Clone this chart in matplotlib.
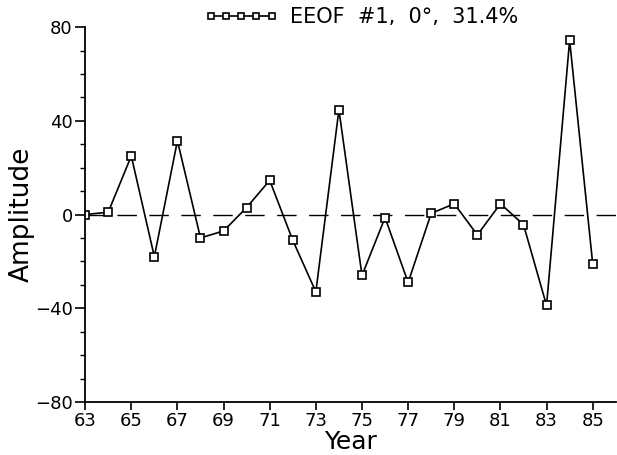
import matplotlib.pyplot as plt

years = list(range(63, 86))
amp = [0, 1, 25, -18, 31.5, -10, -7, 3, 14.6, -11, -33, 44.7, -26,
       -1.3, -29, 0.5, 4.6, -8.7, 4.6, -4.3, -38.8, 74.4, -21]
xticks = list(range(63, 86, 2))
yticks = [-80, -40, 0, 40, 80]

plt.rcParams['font.family'] = 'DejaVu Sans'
fig = plt.figure(figsize=(6.17, 4.55), dpi=100)
ax = fig.add_axes([0.138, 0.1165, 0.86, 0.824])

ax.axhline(0, color='black', lw=1, dashes=(14, 9))
ax.plot(years, amp, color='black', lw=1.2, marker='s', ms=6,
        mfc='white', mec='black', mew=1.2,
        label='EEOF  #1,  0°,  31.4%')

ax.set_xlim(63, 86)
ax.set_ylim(-80, 80)
ax.set_xticks(xticks)
ax.set_yticks(yticks)
ax.set_yticks(range(-80, 81, 10), minor=True)
ax.tick_params(axis='y', which='major', direction='out', length=7,
               labelsize=13, width=1.2, pad=2)
ax.tick_params(axis='y', which='minor', direction='out', length=3.5, width=1)
ax.tick_params(axis='x', direction='out', length=6, labelsize=13,
               width=1.2, pad=1)
for s in ['top', 'right']:
    ax.spines[s].set_visible(False)
for s in ['left', 'bottom']:
    ax.spines[s].set_linewidth(1.3)

ax.set_xlabel('Year', fontsize=18, labelpad=0)
ax.set_ylabel('Amplitude', fontsize=19, labelpad=0)

leg = ax.legend(loc='upper left', bbox_to_anchor=(0.21, 1.075), frameon=False,
                numpoints=5, markerscale=0.75, fontsize=15,
                handlelength=3.5, handletextpad=0.6, borderaxespad=0)

fig.savefig('out.png', dpi=100)
